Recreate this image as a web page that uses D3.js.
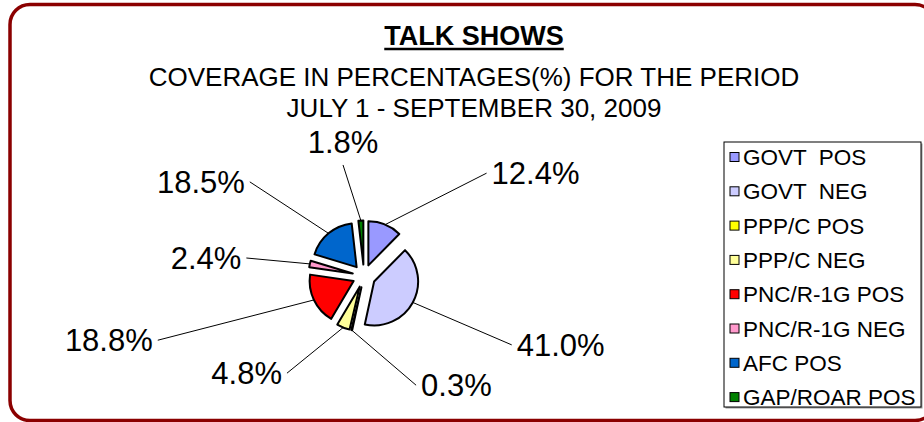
<!DOCTYPE html>
<html>
<head>
<meta charset="utf-8">
<script src="https://cdn.jsdelivr.net/npm/d3@7"></script>
<style>
  body { margin: 0; background: #fff; }
  svg text { font-family: "Liberation Sans", Arial, sans-serif; white-space: pre; }
</style>
</head>
<body>
<svg id="chart" width="924" height="422"></svg>
<script>
// data
var categories = ["GOVT  POS", "GOVT  NEG", "PPP/C POS", "PPP/C NEG",
                  "PNC/R-1G POS", "PNC/R-1G NEG", "AFC POS", "GAP/ROAR POS"];
var shares = [12.4, 41.0, 0.3, 4.8, 18.8, 2.4, 18.5, 1.8];
var colors = ["#9999FF", "#CCCCFF", "#FFFF00", "#FFFF99",
              "#FF0000", "#FF99CC", "#0066CC", "#008000"];
var titleText = "TALK SHOWS";
var subtitleLines = ["COVERAGE IN PERCENTAGES(%) FOR THE PERIOD", "JULY 1 - SEPTEMBER 30, 2009"];

// label placement (polar, relative to pie centre): angle in degrees, distance in px
var labelAngle = [50, 115, 154.5, 218.4, 252.7, 278.7, 309.5, 349.3];
var labelDist = [160, 163, 121, 124, 216, 119, 148, 113];

var svg = d3.select("#chart");
var cx = 364, cy = 276, radius = 44, explode = 11.5;

// frame
svg.append("rect")
  .attr("x", 10).attr("y", 4.5)
  .attr("width", 925).attr("height", 416)
  .attr("rx", 20).attr("ry", 20)
  .attr("fill", "#fff")
  .attr("stroke", "#8B0000")
  .attr("stroke-width", 3.5);

// titles
var title = svg.append("text")
  .attr("x", 474).attr("y", 45)
  .attr("text-anchor", "middle")
  .attr("font-size", 27).attr("font-weight", "bold")
  .text(titleText);
var tw = title.node().getComputedTextLength();
svg.append("line")
  .attr("x1", 474 - tw / 2).attr("x2", 474 + tw / 2)
  .attr("y1", 49).attr("y2", 49)
  .attr("stroke", "#000").attr("stroke-width", 2.5);

svg.selectAll("text.sub")
  .data(subtitleLines)
  .enter().append("text")
  .attr("class", "sub")
  .attr("x", 474)
  .attr("y", function(d, i) { return 86 + i * 31; })
  .attr("text-anchor", "middle")
  .attr("font-size", 26)
  .text(function(d) { return d; });

// pie
var pie = d3.pie().sort(null).value(function(d) { return d; });
var arcs = pie(shares);
var arc = d3.arc().innerRadius(0).outerRadius(radius);

function mid(d) { return (d.startAngle + d.endAngle) / 2; }

var g = svg.append("g").attr("transform", "translate(" + cx + "," + cy + ")");

g.selectAll("path.slice")
  .data(arcs)
  .enter().append("path")
  .attr("class", "slice")
  .attr("d", arc)
  .attr("transform", function(d) {
    var a = mid(d);
    return "translate(" + (explode * Math.sin(a)) + "," + (-explode * Math.cos(a)) + ")";
  })
  .attr("fill", function(d, i) { return colors[i]; })
  .attr("stroke", "#000")
  .attr("stroke-width", 2)
  .attr("stroke-linejoin", "round");

// leader lines and labels
arcs.forEach(function(d, i) {
  var a = mid(d);
  var r0 = radius + explode;
  var x0 = r0 * Math.sin(a), y0 = -r0 * Math.cos(a);
  var la = labelAngle[i] * Math.PI / 180;
  var x1 = labelDist[i] * Math.sin(la), y1 = -labelDist[i] * Math.cos(la);
  g.append("line")
    .attr("x1", x0).attr("y1", y0).attr("x2", x1).attr("y2", y1)
    .attr("stroke", "#000").attr("stroke-width", 1);

  var s = Math.sin(la), c = Math.cos(la);
  var t = g.append("text")
    .attr("font-size", 31)
    .text(d3.format(".1f")(shares[i]) + "%");
  if (Math.abs(s) < 0.3 && c > 0) {
    t.attr("x", x1).attr("y", y1 - 12).attr("text-anchor", "middle");
  } else if (s > 0) {
    t.attr("x", x1 + 5).attr("y", y1).attr("dy", "0.36em").attr("text-anchor", "start");
  } else {
    t.attr("x", x1 - 5).attr("y", y1).attr("dy", "0.36em").attr("text-anchor", "end");
  }
});

// legend
var lx = 724, ly = 142, lw = 197, lh = 265, rowH = 34.3;
svg.append("rect")
  .attr("x", lx + 1.5).attr("y", ly + 1.5)
  .attr("width", lw).attr("height", lh)
  .attr("fill", "#999");
svg.append("rect")
  .attr("x", lx).attr("y", ly)
  .attr("width", lw).attr("height", lh)
  .attr("fill", "#fff")
  .attr("stroke", "#000").attr("stroke-width", 1);

var leg = svg.selectAll("g.leg")
  .data(categories)
  .enter().append("g")
  .attr("class", "leg")
  .attr("transform", function(d, i) { return "translate(" + (lx + 6) + "," + (ly + 15 + i * rowH) + ")"; });
leg.append("rect")
  .attr("x", 0).attr("y", -4.5)
  .attr("width", 9).attr("height", 9)
  .attr("fill", function(d, i) { return colors[i]; })
  .attr("stroke", "#000").attr("stroke-width", 1);
leg.append("text")
  .attr("x", 13).attr("y", 0).attr("dy", "0.36em")
  .attr("font-size", 22.5)
  .text(function(d) { return d; });
</script>
</body>
</html>
